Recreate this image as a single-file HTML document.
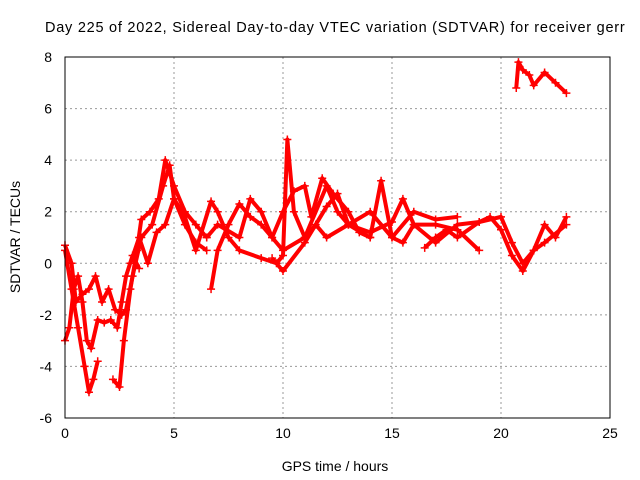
<!DOCTYPE html>
<html><head><meta charset="utf-8"><style>
body{margin:0;background:#fff;overflow:hidden}
svg{display:block;font-family:"Liberation Sans",sans-serif}
</style></head><body>
<svg id="chart" width="640" height="480" viewBox="0 0 640 480">
<text x="45" y="32" font-size="14.5" letter-spacing="0.75" fill="#000">Day 225 of 2022, Sidereal Day-to-day VTEC variation (SDTVAR) for receiver gerr</text>
<g id="grid"></g>
<g id="series"></g>
<rect x="65" y="57" width="545" height="361" fill="none" stroke="#000" stroke-width="1"/>
<g id="ticks"></g>
<text x="335" y="471" font-size="14" text-anchor="middle">GPS time / hours</text>
<text transform="translate(20,237) rotate(-90)" font-size="14" text-anchor="middle">SDTVAR / TECUs</text>
</svg>
<script>
const xTicks=[0,5,10,15,20,25];
const yTicks=[-6,-4,-2,0,2,4,6,8];
const traceA=[[0,0.5],[0.3,-1],[0.6,-2.5],[0.9,-4],[1.1,-5],[1.3,-4.5],[1.5,-3.8]];
const traceB=[[0,-3],[0.2,-2.5],[0.4,-1],[0.6,-0.5],[0.8,-1.5],[1,-3],[1.2,-3.3],[1.5,-2.2],[1.8,-2.3],[2.1,-2.2],[2.4,-2.5],[2.6,-1.5],[2.8,-0.5],[3.1,0.3],[3.4,-0.2]];
const traceC=[[0,0.7],[0.3,0],[0.5,-1.5],[0.8,-1.2],[1.1,-1],[1.4,-0.5],[1.7,-1.5],[2,-1],[2.3,-1.8],[2.6,-2],[2.8,-1.8],[3.1,-0.5],[3.5,1],[4,1.5],[4.5,3],[4.8,3.8],[5,2.5],[5.5,1.5],[6,0.8],[6.5,0.5]];
const traceD=[[2.2,-4.5],[2.5,-4.8],[2.7,-3],[3,-1],[3.3,0.5],[3.5,1.7],[3.9,2],[4.3,2.5],[4.6,4],[5,3],[5.5,2],[6,1.5],[6.5,1]];
const traceE=[[3,0],[3.4,1],[3.8,0],[4.2,1.2],[4.6,1.5],[5,2.5],[5.5,1.8],[6,0.5],[6.7,2.4],[7,2],[7.5,1],[8,0.5],[9,0.2],[9.7,0],[10,0.3],[10.2,4.8],[10.5,2],[11,1],[11.5,1.5],[12,1],[13,1.5],[14,2],[15,1],[16,2],[17,1.7],[18,1.8]];
const traceF=[[6.7,-1],[7,0.5],[7.5,1.5],[8,2.3],[8.5,1.8],[9,1.5],[9.5,1],[10,2],[10.5,2.8],[11,3],[11.3,1.8],[11.8,3.3],[12.3,2.7],[13,2],[13.5,1.2],[14,1]];
const traceG=[[6.5,1],[7,1.5],[8,1],[8.5,2.5],[9,2],[9.5,1],[10,0.5],[11,1],[12,3],[12.5,2],[13,1.5],[14,1],[14.5,3.2],[15,1],[15.5,0.8],[16,1.5],[17,1.5],[18,1.3],[19,0.5]];
const traceH=[[9.5,0.2],[10,-0.3],[11,0.8],[12,2.2],[12.5,2.7],[13,1.5],[14,1.2],[15,1.6],[15.5,2.5],[16,1.5],[17,0.8],[18,1.5],[19,1.6],[19.5,1.8],[20,1.3],[20.5,0.3],[21,-0.3],[21.5,0.5],[22,1.5],[22.5,1],[23,1.8]];
const traceI=[[16.5,0.6],[17,1],[17.5,1.3],[18,1],[19,1.6],[20,1.8],[20.5,0.8],[21,0],[21.5,0.5],[22,0.8],[23,1.5]];
const traceJ=[[20.7,6.8],[20.8,7.8],[21,7.5],[21.3,7.3],[21.5,6.9],[22,7.4],[22.5,7],[23,6.6]];
const traces=[traceA,traceB,traceC,traceD,traceE,traceF,traceG,traceH,traceI,traceJ];
const NS="http://www.w3.org/2000/svg";
const X=v=>65+(v-0)/25*545;
const Y=v=>418-(v+6)/14*361;
const grid=document.getElementById('grid'),ticks=document.getElementById('ticks'),ser=document.getElementById('series');
function mk(t,a,p){const e=document.createElementNS(NS,t);for(const k in a)e.setAttribute(k,a[k]);p.appendChild(e);return e;}
xTicks.forEach(v=>{
 if(v>0&&v<25){const g=mk('line',{x1:X(v),x2:X(v),y1:57,y2:418,stroke:'#999','stroke-dasharray':'2,3'},grid);
 
 }
 const t=mk('text',{x:X(v),y:438,'font-size':14,'text-anchor':'middle'},ticks);t.textContent=v;
 
 
});
yTicks.forEach(v=>{
 if(v>-6&&v<8){const g=mk('line',{x1:65,x2:610,y1:Y(v),y2:Y(v),stroke:'#999','stroke-dasharray':'2,3'},grid);
 
 }
 const t=mk('text',{x:52,y:Y(v)+5,'font-size':14,'text-anchor':'end'},ticks);t.textContent=v;
 
 
});
traces.forEach((tr,i)=>{
 const pl=mk('polyline',{points:tr.map(p=>X(p[0])+','+Y(p[1])).join(' '),fill:'none',stroke:'#f00','stroke-width':4,'stroke-linejoin':'round'},ser);
 
 
 tr.forEach(p=>{
  const m=mk('path',{d:`M${X(p[0])-4},${Y(p[1])}h8M${X(p[0])},${Y(p[1])-4}v8`,stroke:'#f00','stroke-width':1.5},ser);
  
  
 });
});
</script>
</body></html>
